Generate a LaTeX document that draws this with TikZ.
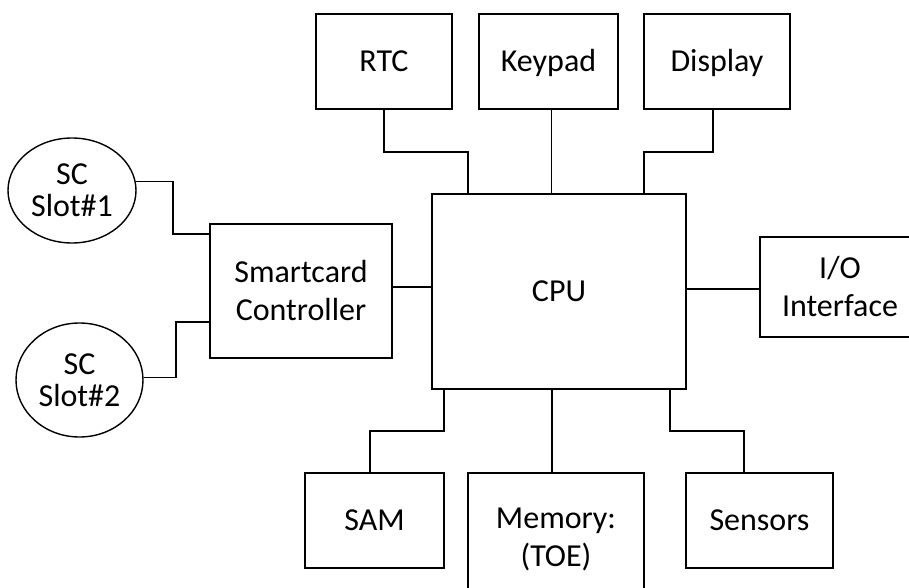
\documentclass[tikz,border=0pt]{standalone}
\usepackage{fontspec}
\setmainfont{Carlito}
\usetikzlibrary{shapes.geometric,calc}
\begin{document}
\begin{tikzpicture}[x=1pt,y=-1pt,
  every node/.style={font=\fontsize{32}{38}\selectfont},
  box/.style={draw=black,line width=1.4pt,rectangle,inner sep=0pt,align=center},
  onebox/.style={box,text height=20pt,text depth=0pt},
  slot/.style={draw=black,line width=1.4pt,ellipse,inner sep=0pt,align=center,font=\fontsize{32}{32}\selectfont},
  wire/.style={draw=black,line width=1.4pt},
  plain/.style={inner sep=0pt}]
\useasboundingbox (0,0) rectangle (909,588);
% top row
\node[onebox,minimum width=136pt,minimum height=95pt] (rtc) at (384,61.5) {RTC};
\node[onebox,minimum width=139pt,minimum height=95pt] (keypad) at (548.5,61.5) {Keypad};
\node[onebox,minimum width=146pt,minimum height=95pt] (display) at (717,61.5) {Display};
% middle
\node[onebox,minimum width=254pt,minimum height=195pt] (cpu) at (559,291.5) {CPU};
\node[box,minimum width=182pt,minimum height=134pt] (smartcard) at (301,291) {Smartcard\\Controller};
\node[box,minimum width=160pt,minimum height=100pt] (io) at (840,287) {I/O\\Interface};
\node[slot,minimum width=128pt,minimum height=105pt] (slot1) at (72,190.5) {SC\\Slot\#1};
\node[slot,minimum width=127pt,minimum height=114pt] (slot2) at (79.5,380) {SC\\Slot\#2};
% bottom row
\node[onebox,minimum width=139pt,minimum height=95pt] (sam) at (374.5,520.5) {SAM};
\node[box,minimum width=176pt,minimum height=150pt] (memory) at (556,548) {};
\node[plain,anchor=base] (memtext1) at (556,528) {Memory:};
\node[plain,anchor=base] (memtext2) at (556,566) {(TOE)};
\node[onebox,minimum width=147pt,minimum height=95pt] (sensors) at (759.5,520.5) {Sensors};
% bends
\coordinate (rtcbend) at (468,152);
\coordinate (dispbend) at (644,152);
\coordinate (sambend) at (444,431);
\coordinate (sensbend) at (670,431);
\coordinate (s1bend) at (173,234);
\coordinate (s2bend) at (176,322);
% connectors
\draw[wire] (rtc.south) |- (rtcbend) -- (rtcbend |- cpu.north);
\draw[wire] ([xshift=3pt]keypad.south) -- ([xshift=3pt]keypad.south |- cpu.north);
\draw[wire] ([xshift=-4pt]display.south) |- (dispbend) -- (dispbend |- cpu.north);
\draw[wire] (sambend |- cpu.south) -- (sambend) -| ([xshift=-4.5pt]sam.north);
\draw[wire] ([xshift=-4pt]memory.north |- cpu.south) -- ([xshift=-4pt]memory.north);
\draw[wire] (sensbend |- cpu.south) -- (sensbend) -| ([xshift=-15.5pt]sensors.north);
\draw[wire] (slot1.8) -| (s1bend) -- (s1bend -| smartcard.west);
\draw[wire] (slot2.2) -| (s2bend) -- (s2bend -| smartcard.west);
\draw[wire] ([yshift=4pt]smartcard.east) -- ([yshift=4pt]smartcard.east -| cpu.west);
\draw[wire] ([yshift=-2pt]io.west) -- ([yshift=-2pt]io.west -| cpu.east);
\end{tikzpicture}
\end{document}
